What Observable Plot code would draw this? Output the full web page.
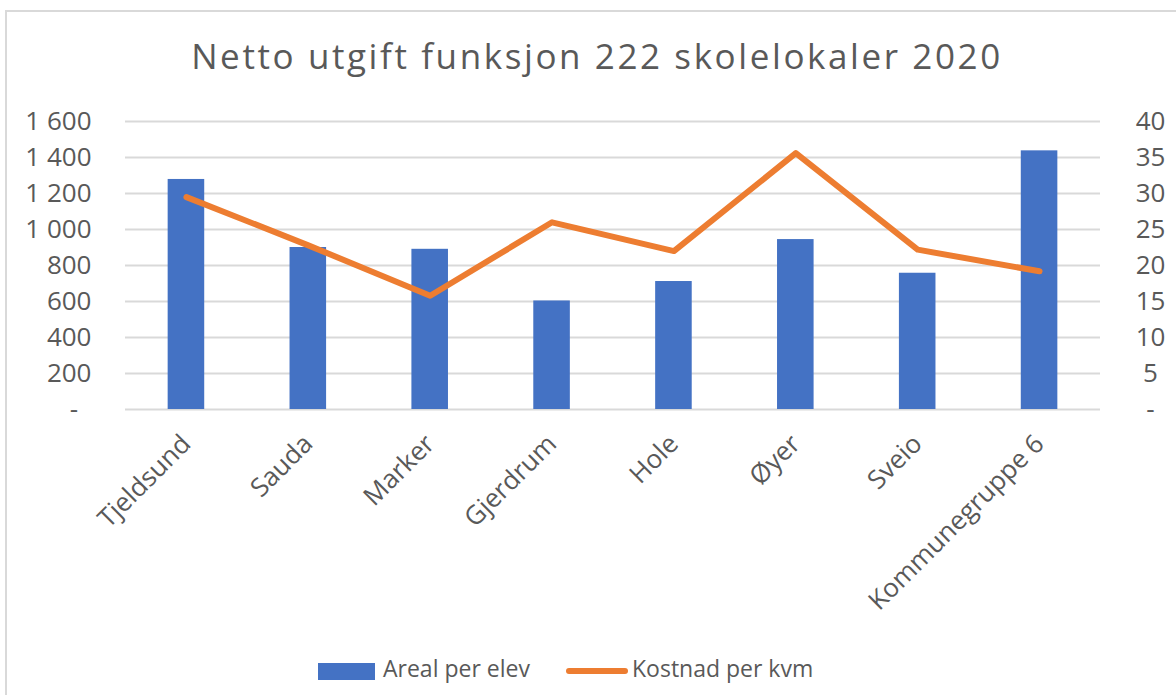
<!DOCTYPE html>
<html>
<head>
<meta charset="utf-8">
<script src="https://cdn.jsdelivr.net/npm/d3@7"></script>
<script src="https://cdn.jsdelivr.net/npm/@observablehq/plot@0.6"></script>
<style>
  body { margin: 0; width: 1176px; height: 695px; overflow: hidden; background: #fff; position: relative; font-family: "Open Sans", sans-serif; }
  #frame { position: absolute; left: 5px; top: 10px; width: 1300px; height: 800px; border: 2px solid #d9d9d9; box-sizing: border-box; }
  #title { position: absolute; left: 0; top: 38px; width: 1194px; text-align: center; font-size: 35px; letter-spacing: 2.6px; line-height: 1; color: #595959; white-space: nowrap; }
  #chart { position: absolute; left: 0; top: 100px; }
  .leg { position: absolute; font-size: 23px; line-height: 1; color: #595959; white-space: nowrap; }
  .sw { position: absolute; }
</style>
</head>
<body>
<div id="frame"></div>
<div id="title">Netto utgift funksjon 222 skolelokaler 2020</div>
<div id="chart"></div>
<div id="legend"></div>
<script>
// ---- data ----
const categories = ["Tjeldsund", "Sauda", "Marker", "Gjerdrum", "Hole", "Øyer", "Sveio", "Kommunegruppe 6"];
const arealPerElev = [1278, 900, 890, 603, 711, 944, 757, 1437];
const kostnadPerKvm = [29.5, 22.8, 15.8, 26.0, 22.0, 35.6, 22.2, 19.2];
const leftTicks = [0, 200, 400, 600, 800, 1000, 1200, 1400, 1600];
const rightTicks = [0, 5, 10, 15, 20, 25, 30, 35, 40];
const seriesNames = ["Areal per elev", "Kostnad per kvm"];
const colors = ["#4472C4", "#ED7D31"];

const leftMax = d3.max(leftTicks);
const rightMax = d3.max(rightTicks);
const ratio = leftMax / rightMax;

const rows = categories.map((c, i) => ({ kategori: c, areal: arealPerElev[i], kostnad: kostnadPerKvm[i] }));

const fmtLeft = d => d === 0 ? "-\u00a0\u00a0" : d3.format(",")(d).replace(/,/g, "\u00a0");

const chart = Plot.plot({
  width: 1176,
  height: 540,
  marginTop: 21,
  marginBottom: 231,
  marginLeft: 125,
  marginRight: 76,
  style: { background: "transparent", fontFamily: "Open Sans, sans-serif", fontSize: "26px", color: "#595959", overflow: "visible" },
  x: { domain: categories, paddingInner: 0.7, paddingOuter: 0.35, round: false },
  y: { domain: [0, leftMax] },
  marks: [
    Plot.gridY(leftTicks, { stroke: "#d9d9d9", strokeWidth: 2, strokeOpacity: 1 }),
    Plot.barY(rows, { x: "kategori", y: "areal", fill: colors[0] }),
    Plot.line(rows, { x: "kategori", y: d => d.kostnad * ratio, stroke: colors[1], strokeWidth: 6, strokeLinecap: "round", strokeLinejoin: "round" }),
    Plot.axisY(leftTicks, { anchor: "left", tickSize: 0, tickPadding: 34, tickFormat: fmtLeft, fontSize: 26, label: null }),
    Plot.axisY(rightTicks.map(v => v * ratio), { anchor: "right", tickSize: 0, tickPadding: 50, textAnchor: "middle", tickFormat: d => d === 0 ? "-" : String(d / ratio), fontSize: 26, label: null }),
    Plot.axisX({ tickRotate: -45, tickSize: 0, tickPadding: 30, fontSize: 26, label: null })
  ]
});
document.getElementById("chart").appendChild(chart);

// ---- legend ----
const legend = document.getElementById("legend");
legend.innerHTML = `
  <div class="sw" style="left:318px;top:663px;width:57px;height:17px;background:${colors[0]}"></div>
  <div class="leg" style="left:383px;top:657px">${seriesNames[0]}</div>
  <div class="sw" style="left:566px;top:668px;width:62px;height:6px;border-radius:3px;background:${colors[1]}"></div>
  <div class="leg" style="left:632px;top:657px">${seriesNames[1]}</div>
`;
</script>
</body>
</html>
